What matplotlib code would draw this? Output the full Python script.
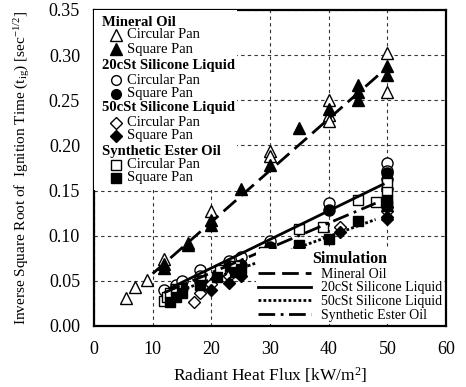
import numpy as np
import matplotlib.pyplot as plt
from matplotlib.lines import Line2D
from matplotlib.patches import Rectangle
from matplotlib.ticker import FormatStrFormatter

plt.rcParams['font.family'] = ['Liberation Serif', 'DejaVu Serif']
plt.rcParams['mathtext.fontset'] = 'custom'
plt.rcParams['mathtext.rm'] = 'Liberation Serif'
plt.rcParams['mathtext.it'] = 'Liberation Serif:italic'

mo_circ_x = [5.5, 7, 9, 12, 16, 20, 30, 30, 40, 40, 40, 50, 50]
mo_circ_y = [0.031, 0.043, 0.051, 0.074, 0.092, 0.127, 0.194, 0.188, 0.250, 0.234, 0.227, 0.302, 0.259]
mo_sq_x = [12, 12, 16, 20, 20, 25, 30, 35, 40, 45, 45, 45, 50, 50]
mo_sq_y = [0.064, 0.069, 0.090, 0.112, 0.117, 0.152, 0.178, 0.219, 0.240, 0.267, 0.259, 0.250, 0.288, 0.278]

s20_circ_x = [12, 14, 15, 18, 18, 23, 25, 30, 40, 50, 50, 50]
s20_circ_y = [0.040, 0.045, 0.050, 0.062, 0.055, 0.072, 0.076, 0.094, 0.136, 0.181, 0.172, 0.163]
s20_sq_x = [13, 15, 18, 23, 25, 30, 40, 50, 50]
s20_sq_y = [0.036, 0.042, 0.050, 0.066, 0.068, 0.088, 0.128, 0.170, 0.152]

s50_circ_x = [17, 18, 20, 23, 30, 35, 42, 50, 50]
s50_circ_y = [0.027, 0.037, 0.047, 0.055, 0.070, 0.087, 0.110, 0.127, 0.132]
s50_sq_x = [20, 23, 25, 30, 35, 42, 50, 50]
s50_sq_y = [0.040, 0.048, 0.055, 0.068, 0.080, 0.104, 0.118, 0.121]

seo_circ_x = [12, 12.5, 13, 14, 18, 21.5, 24, 29, 35, 39, 45, 48, 50, 50, 50]
seo_circ_y = [0.028, 0.032, 0.037, 0.041, 0.050, 0.062, 0.066, 0.082, 0.107, 0.110, 0.140, 0.137, 0.158, 0.148, 0.135]
seo_sq_x = [13, 14, 15, 18, 21, 24, 25, 30, 35, 40, 45, 50, 50]
seo_sq_y = [0.027, 0.032, 0.036, 0.045, 0.054, 0.060, 0.063, 0.074, 0.090, 0.096, 0.116, 0.133, 0.140]

# --- simulation lines (end points) ---
sim_mo_x, sim_mo_y = [10, 48.5], [0.058, 0.278]
sim_s20_x, sim_s20_y = [13, 49.3], [0.042, 0.157]
sim_s50_x, sim_s50_y = [15, 48], [0.040, 0.118]
sim_seo_x, sim_seo_y = [12, 48], [0.037, 0.136]

fig = plt.figure(figsize=(4.66, 3.87), dpi=100)
ax = fig.add_axes([94 / 466, 1 - 326 / 387, 352 / 466, 316 / 387])

ax.set_xlim(0, 60)
ax.set_ylim(0, 0.35)
ax.set_xticks(range(0, 61, 10))
ax.set_yticks(np.arange(0, 0.351, 0.05))
ax.yaxis.set_major_formatter(FormatStrFormatter('%.2f'))
ax.tick_params(length=0, labelsize=13)
ax.tick_params(axis='y', pad=10)
ax.tick_params(axis='x', pad=11)
ax.grid(True, ls=(0, (3, 3)), lw=0.8, color='#333333')
ax.set_axisbelow(True)
for s in ax.spines.values():
    s.set_linewidth(1.6)

ax.set_xlabel('Radiant Heat Flux [kW/m$^{2}$]', fontsize=12.5)
ax.set_ylabel(r'Inverse Square Root of  Ignition Time (t$_{\mathrm{ig}}$) [sec$^{\mathrm{-1/2}}$]', fontsize=11)
ax.xaxis.set_label_coords(0.5, -0.125)
ax.yaxis.set_label_coords(-0.175, 0.5)

kw = dict(ls='none', mec='black', mew=1.0, zorder=3)
ax.plot(mo_circ_x, mo_circ_y, marker='^', ms=9, mfc='white', **kw)
ax.plot(mo_sq_x, mo_sq_y, marker='^', ms=9, mfc='black', **kw)
ax.plot(s20_circ_x, s20_circ_y, marker='o', ms=8, mfc='white', **kw)
ax.plot(s20_sq_x, s20_sq_y, marker='o', ms=8, mfc='black', **kw)
ax.plot(s50_circ_x, s50_circ_y, marker='D', ms=6, mfc='white', **kw)
ax.plot(s50_sq_x, s50_sq_y, marker='D', ms=6, mfc='black', **kw)
ax.plot(seo_circ_x, seo_circ_y, marker='s', ms=7, mfc='white', **kw)
ax.plot(seo_sq_x, seo_sq_y, marker='s', ms=7, mfc='black', **kw)

ls_mo = (0, (6, 2.5))
ls_s20 = '-'
ls_s50 = (0, (1, 0.8))
ls_seo = (0, (6, 2, 1, 2))
ax.plot(sim_mo_x, sim_mo_y, color='black', lw=2, ls=ls_mo, zorder=4)
ax.plot(sim_s20_x, sim_s20_y, color='black', lw=2, ls=ls_s20, zorder=4)
ax.plot(sim_s50_x, sim_s50_y, color='black', lw=2, ls=ls_s50, zorder=4)
ax.plot(sim_seo_x, sim_seo_y, color='black', lw=2, ls=ls_seo, zorder=4)

# --- experimental legend (upper left), drawn by hand ---
ax.add_patch(Rectangle((0, 0.43), 0.406, 0.57, transform=ax.transAxes,
                       facecolor='white', edgecolor='none', zorder=5))


def ay(py):
    return (326 - py) / 316


groups = [
    ('Mineral Oil', '^', 8, [22, 35, 49]),
    ('20cSt Silicone Liquid', 'o', 7, [66, 80, 94]),
    ('50cSt Silicone Liquid', 'D', 6, [108, 122.5, 136]),
    ('Synthetic Ester Oil', 's', 7, [151.5, 165, 178]),
]
for name, mk, ms, rows in groups:
    ax.text(0.022, ay(rows[0]), name, transform=ax.transAxes, fontsize=10.5,
            fontweight='bold', va='center', ha='left', zorder=6)
    for py, fc, lab in [(rows[1], 'white', 'Circular Pan'), (rows[2], 'black', 'Square Pan')]:
        ax.plot([0.062], [ay(py)], transform=ax.transAxes, marker=mk, ms=ms,
                mfc=fc, mec='black', mew=1.0, ls='none', zorder=6, clip_on=False)
        ax.text(0.094, ay(py), lab, transform=ax.transAxes, fontsize=10.5,
                va='center', ha='left', zorder=6)

# --- simulation legend (lower right) ---
handles = [
    Line2D([], [], color='black', lw=2, ls=ls_mo),
    Line2D([], [], color='black', lw=2, ls=ls_s20),
    Line2D([], [], color='black', lw=2, ls=ls_s50),
    Line2D([], [], color='black', lw=2, ls=ls_seo),
]
labels = ['Mineral Oil', '20cSt Silicone Liquid', '50cSt Silicone Liquid', 'Synthetic Ester Oil']
leg = ax.legend(handles, labels, loc='lower right', title='Simulation', fontsize=10,
                frameon=True, fancybox=False, framealpha=1, edgecolor='none',
                facecolor='white', borderpad=0.15, borderaxespad=0.15,
                handlelength=3.8, handletextpad=0.7, labelspacing=0.05)
leg.get_title().set_fontweight('bold')
leg.get_title().set_fontsize(11.5)
leg.set_zorder(6)

fig.savefig('out.png', dpi=100)
